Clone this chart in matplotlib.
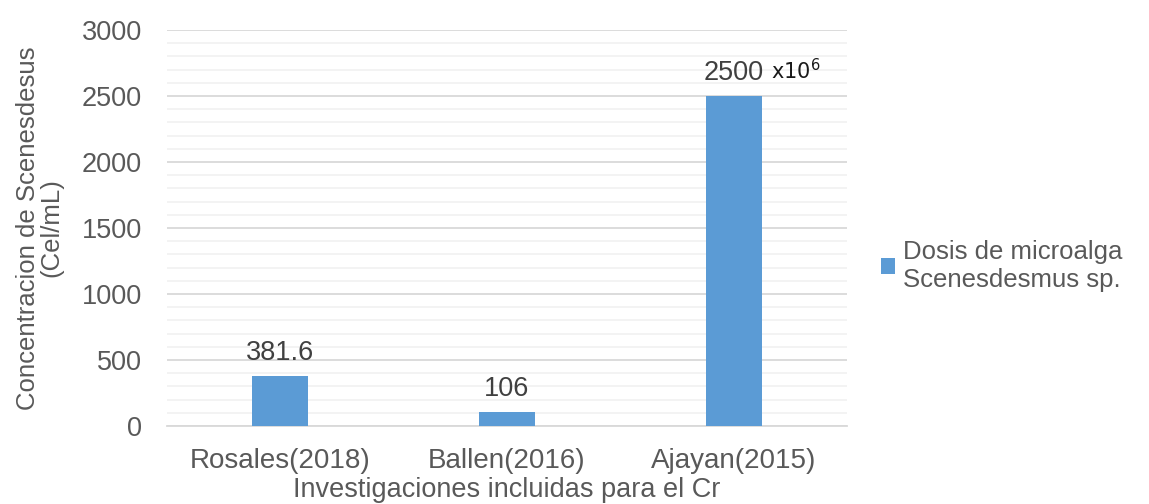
import matplotlib.pyplot as plt
from matplotlib.ticker import MultipleLocator

# Dosis de microalga por investigacion
estudios = ['Rosales(2018)', 'Ballen(2016)', 'Ajayan(2015)']
dosis = [381.6, 106, 2500]
etiquetas = ['381.6', '106', '2500']

plt.rcParams['font.family'] = ['Liberation Sans', 'DejaVu Sans']
gris = '#595959'

fig = plt.figure(figsize=(11.49, 5.04), dpi=100)
ax = fig.add_axes([0.1453, 0.1548, 0.5918, 0.7857])

barras = ax.bar(estudios, dosis, width=0.247, color='#5B9BD5', zorder=3,
                label='Dosis de microalga\nScenesdesmus sp.')

for b, txt in zip(barras, etiquetas):
    ax.annotate(txt, (b.get_x() + b.get_width() / 2, b.get_height()),
                xytext=(0, 7), textcoords='offset points',
                ha='center', va='bottom', fontsize=19.5, color='#404040')

# el valor de Ajayan viene en x10^6
b = barras[2]
ax.annotate(r'$\mathregular{x10^6}$', (b.get_x() + b.get_width() / 2, b.get_height()),
            xytext=(27, 9), textcoords='offset points', ha='left', va='bottom',
            fontsize=15, color='#1a1a1a', family='DejaVu Sans')

ax.set_xlim(-0.5, 2.5)
ax.set_ylim(0, 3000)
ax.yaxis.set_major_locator(MultipleLocator(500))
ax.yaxis.set_minor_locator(MultipleLocator(100))
ax.grid(which='major', axis='y', color='#D9D9D9', linewidth=1.3, zorder=0)
ax.grid(which='minor', axis='y', color='#F2F2F2', linewidth=1.3, zorder=0)
ax.set_axisbelow(True)

for s in ['top', 'right', 'left']:
    ax.spines[s].set_visible(False)
ax.spines['bottom'].set_color('#D9D9D9')
ax.spines['bottom'].set_linewidth(1.3)

ax.tick_params(axis='both', which='both', length=0, labelcolor=gris)
ax.tick_params(axis='y', pad=18, labelsize=19.5)
ax.tick_params(axis='x', pad=16, labelsize=20)

ax.set_ylabel('Concentracion de Scenesdesus\n(Cel/mL)', fontsize=18.5,
              color=gris, labelpad=13, linespacing=1.0)
ax.set_xlabel('Investigaciones incluidas para el Cr', fontsize=19.5,
              color=gris, labelpad=2)

ax.legend(loc='center left', bbox_to_anchor=(1.035, 0.405), frameon=False,
          fontsize=18.5, labelcolor=gris, handlelength=0.55, handleheight=0.55,
          handletextpad=0.3, borderaxespad=0)

fig.savefig('out.png', dpi=100)
